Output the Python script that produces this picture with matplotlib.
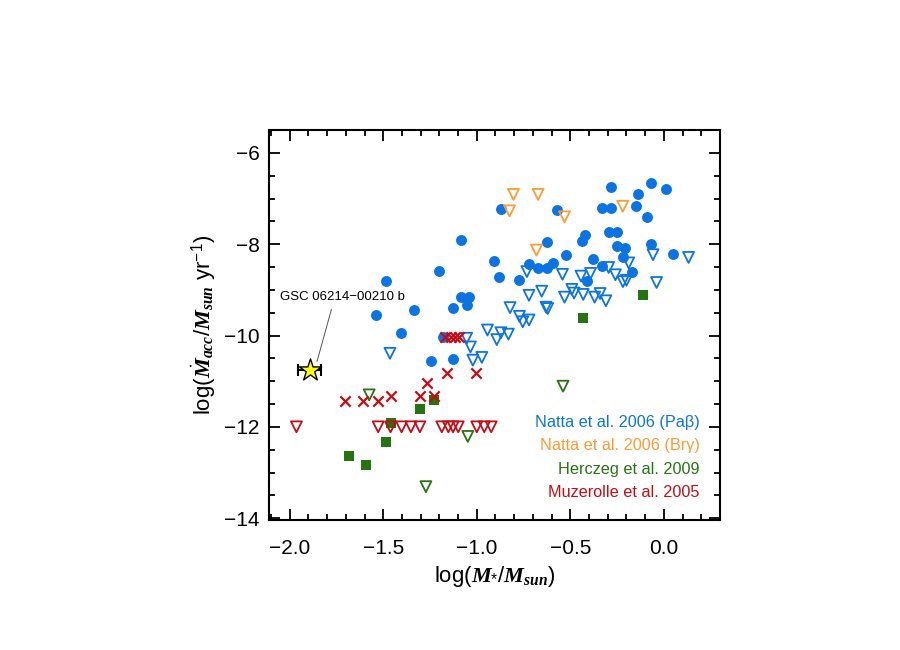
import numpy as np
import matplotlib
matplotlib.use('Agg')
import matplotlib.pyplot as plt
from matplotlib.ticker import MultipleLocator

plt.rcParams['font.family'] = ['Liberation Sans', 'DejaVu Sans']
plt.rcParams['mathtext.fontset'] = 'custom'
plt.rcParams['mathtext.rm'] = 'Liberation Sans'
plt.rcParams['mathtext.it'] = 'Liberation Serif:italic:bold'
plt.rcParams['mathtext.bf'] = 'Liberation Serif:bold'

# Natta et al. 2006 (Pa beta) detections
pab_x = [-1.486, -1.536, -1.405, -1.335, -1.204, -1.179, -1.243, -1.125, -1.125, -1.086,
         -1.042, -1.054, -1.086, -0.906, -0.883, -0.873, -0.772, -0.721, -0.672, -0.622,
         -0.591, -0.622, -0.571, -0.522, -0.440, -0.420, -0.411, -0.380, -0.332, -0.281,
         -0.329, -0.281, -0.291, -0.250, -0.250, -0.210, -0.219, -0.170, -0.140, -0.150,
         -0.090, -0.070, 0.011, -0.069, 0.050]
pab_y = [-8.80, -9.56, -9.95, -9.45, -8.59, -10.03, -10.56, -10.51, -9.39, -9.15,
         -9.15, -9.33, -7.90, -8.36, -8.72, -7.24, -8.79, -8.44, -8.53, -8.53,
         -8.42, -7.95, -7.25, -8.23, -7.93, -7.80, -8.80, -8.32, -7.20, -7.20,
         -8.47, -6.74, -7.73, -7.73, -8.03, -8.08, -8.28, -8.62, -6.90, -7.16,
         -7.40, -6.67, -6.80, -7.99, -8.22]

# Natta et al. 2006 (Pa beta) upper limits
pab_lim_x = [-1.464, -1.054, -1.034, -1.021, -0.973, -0.943, -0.893, -0.871, -0.831, -0.822,
             -0.772, -0.754, -0.721, -0.732, -0.721, -0.653, -0.630, -0.621, -0.542, -0.531,
             -0.492, -0.480, -0.443, -0.431, -0.392, -0.370, -0.341, -0.310, -0.295, -0.259,
             -0.188, -0.219, -0.200, -0.058, 0.132, -0.039]
pab_lim_y = [-10.39, -10.06, -10.25, -10.54, -10.48, -9.88, -10.09, -9.94, -9.97, -9.39,
             -9.58, -9.70, -9.66, -8.60, -9.12, -9.03, -9.38, -9.41, -8.66, -9.16,
             -8.99, -9.07, -8.70, -9.10, -8.64, -9.16, -9.08, -9.24, -8.51, -8.67,
             -8.41, -8.82, -8.79, -8.23, -8.29, -8.84]

# Natta et al. 2006 (Br gamma) upper limits
brg_lim_x = [-0.804, -0.672, -0.825, -0.531, -0.681, -0.220]
brg_lim_y = [-6.91, -6.91, -7.27, -7.40, -8.13, -7.17]

# Herczeg et al. 2009
her_x = [-1.684, -1.592, -1.487, -1.461, -1.304, -1.228, -0.434, -0.113]
her_y = [-12.63, -12.83, -12.33, -11.91, -11.62, -11.42, -9.62, -9.11]
her_lim_x = [-1.575, -1.048, -1.272, -0.539]
her_lim_y = [-11.30, -12.21, -13.31, -11.11]

# Muzerolle et al. 2005
muz_x = [-1.705, -1.609, -1.530, -1.461, -1.305, -1.230, -1.266, -1.157, -1.003,
         -1.170, -1.140, -1.116, -1.097]
muz_y = [-11.43, -11.43, -11.43, -11.32, -11.32, -11.32, -11.03, -10.82, -10.82,
         -10.03, -10.03, -10.03, -10.03]
muz_lim_x = [-1.964, -1.527, -1.461, -1.402, -1.352, -1.304, -1.187, -1.152, -1.127,
             -1.099, -1.000, -0.960, -0.923]
muz_lim_y = [-12.0] * 13

# GSC 06214-00210 b
gsc_x = -1.893
gsc_y = -10.75
gsc_xerr = 0.063

blue = '#0b74e2'
orange = '#ff9a35'
green = '#267312'
red = '#c20d17'

fig = plt.figure(figsize=(9, 6.5), dpi=100)
ax = fig.add_axes([0.299, 0.2, 0.501, 0.6])

ax.scatter(pab_x, pab_y, s=62, color=blue, marker='o', linewidths=0, zorder=3)
ax.scatter(pab_lim_x, pab_lim_y, s=62, marker='v', facecolors='none',
           edgecolors=blue, linewidths=1.3, zorder=3)
ax.scatter(brg_lim_x, brg_lim_y, s=62, marker='v', facecolors='none',
           edgecolors=orange, linewidths=1.3, zorder=3)
ax.scatter(her_x, her_y, s=52, color=green, marker='s', linewidths=0, zorder=3)
ax.scatter(her_lim_x, her_lim_y, s=62, marker='v', facecolors='none',
           edgecolors=green, linewidths=1.3, zorder=3)
ax.scatter(muz_x, muz_y, s=55, color=red, marker='x', linewidths=1.6, zorder=3)
ax.scatter(muz_lim_x, muz_lim_y, s=62, marker='v', facecolors='none',
           edgecolors=red, linewidths=1.3, zorder=3)

ax.errorbar(gsc_x, gsc_y, xerr=gsc_xerr, fmt='none', ecolor='black',
            elinewidth=1.5, capsize=4, capthick=1.5, zorder=4)
ax.scatter([gsc_x], [gsc_y], s=280, marker='*', color='yellow',
           edgecolors='black', linewidths=1.0, zorder=5)
ax.text(-1.72, -9.16, 'GSC 06214\u221200210 b', ha='center', va='center', fontsize=9.5)
ax.annotate('', xy=(-1.854, -10.57), xytext=(-1.777, -9.43),
            arrowprops=dict(arrowstyle='-', color='#555555', lw=0.7,
                            shrinkA=0, shrinkB=0))

legend_items = [('Natta et al. 2006 (Pa\u03b2)', blue),
                ('Natta et al. 2006 (Br\u03b3)', orange),
                ('Herczeg et al. 2009', green),
                ('Muzerolle et al. 2005', red)]
for i, (label, col) in enumerate(legend_items):
    ax.text(0.955, 0.25 - i * 0.0597, label, color=col, fontsize=11.7,
            ha='right', va='center', transform=ax.transAxes)

ax.set_xlim(-2.11, 0.30)
ax.set_ylim(-14.04, -5.5)
ax.xaxis.set_major_locator(MultipleLocator(0.5))
ax.xaxis.set_minor_locator(MultipleLocator(0.1))
ax.yaxis.set_major_locator(MultipleLocator(2))
ax.yaxis.set_minor_locator(MultipleLocator(0.5))
ax.xaxis.set_major_formatter(plt.FuncFormatter(lambda v, p: f'{v:.1f}'.replace('-', '\u2212')))
ax.tick_params(which='both', direction='in', top=True, right=True, labelsize=15, width=1.3)
ax.tick_params(which='major', length=8, pad=7)
ax.tick_params(axis='x', which='major', pad=14)
ax.tick_params(which='minor', length=4)
for sp in ax.spines.values():
    sp.set_linewidth(1.5)

ax.set_xlabel(r'log($M_{*}/M_{sun}$)', fontsize=16, labelpad=4)
ax.set_ylabel(r'log($\dot{M}_{acc}/M_{sun}$ yr$^{-1}$)', fontsize=16, labelpad=4)

fig.savefig('out.png', dpi=100)
